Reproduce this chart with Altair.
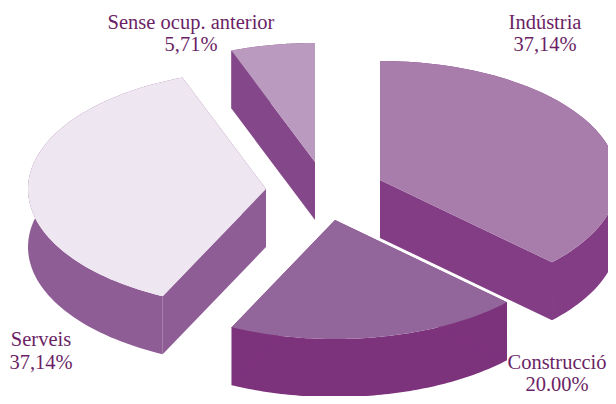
import math
import altair as alt
import pandas as pd

names = ["Indústria", "Construcció", "Serveis", "Sense ocup. anterior"]
shares = [37.14, 20.00, 37.14, 5.71]
value_labels = ["37,14%", "20.00%", "37,14%", "5,71%"]

# Layout of the exploded pseudo-3D pie (picture pixels)
apex_x = [380, 335, 266, 315]
apex_y = [180, 220, 189, 162]
RX, RY, DEPTH = 238, 119, 58
top_colors = ["#A87CAB", "#93669B", "#EEE6F0", "#BB9ABF"]
side_colors = ["#833D85", "#7D327C", "#8F5D95", "#844789"]
TEXT = "#6B1F66"
label_x = [545, 557, 41, 191]
label_y = [23, 363, 340, 23]
value_y = [45, 385, 363, 45]

total = sum(shares)
side_rows, top_rows = [], []
start = 0.0
for k, share in enumerate(shares):
    sweep = share / total * 2 * math.pi
    n = 80
    arc = [(apex_x[k] + RX * math.sin(start + sweep * j / n),
            apex_y[k] - RY * math.cos(start + sweep * j / n)) for j in range(n + 1)]
    ax, ay = apex_x[k], apex_y[k]
    top = [(ax, ay)] + arc + [(ax, ay)]
    for i, (x, y) in enumerate(top):
        top_rows.append(dict(s=names[k], x=x, y=y, i=i))
    faces = {
        "rim": arc + [(x, y + DEPTH) for x, y in reversed(arc)],
        "a": [(ax, ay), arc[0], (arc[0][0], arc[0][1] + DEPTH), (ax, ay + DEPTH)],
        "b": [(ax, ay), arc[-1], (arc[-1][0], arc[-1][1] + DEPTH), (ax, ay + DEPTH)],
    }
    for fname, pts in faces.items():
        for i, (x, y) in enumerate(pts + pts[:1]):
            side_rows.append(dict(s=names[k], face=names[k] + fname, x=x, y=y, i=i))
    start += sweep

text_rows = []
for k in range(4):
    text_rows.append(dict(t=names[k], x=label_x[k], y=label_y[k]))
    text_rows.append(dict(t=value_labels[k], x=label_x[k], y=value_y[k]))

xs = alt.Scale(domain=[8, 608], nice=False, zero=False)
ys = alt.Scale(domain=[396, 8], nice=False, zero=False)
X = alt.X("x:Q", scale=xs, axis=None)
Y = alt.Y("y:Q", scale=ys, axis=None)

sides = alt.Chart(pd.DataFrame(side_rows)).mark_line(strokeWidth=0, clip=True).encode(
    x=X, y=Y, order="i:Q", detail="face:N",
    fill=alt.Fill("s:N", scale=alt.Scale(domain=names, range=side_colors), legend=None),
)
tops = alt.Chart(pd.DataFrame(top_rows)).mark_line(strokeWidth=0, clip=True).encode(
    x=X, y=Y, order="i:Q", detail="s:N",
    fill=alt.Fill("s:N", scale=alt.Scale(domain=names, range=top_colors), legend=None),
)
labels = alt.Chart(pd.DataFrame(text_rows)).mark_text(
    font="Liberation Serif", fontSize=20.5, color=TEXT, align="center", baseline="middle"
).encode(x=X, y=Y, text="t:N")

chart = (sides + tops + labels).resolve_scale(fill="independent").properties(
    width=600, height=388, padding=0, autosize=alt.AutoSizeParams(type="none"),
    background="white",
).configure_view(stroke=None)

chart.save("out.html", embed_options={"renderer": "svg", "actions": False})
